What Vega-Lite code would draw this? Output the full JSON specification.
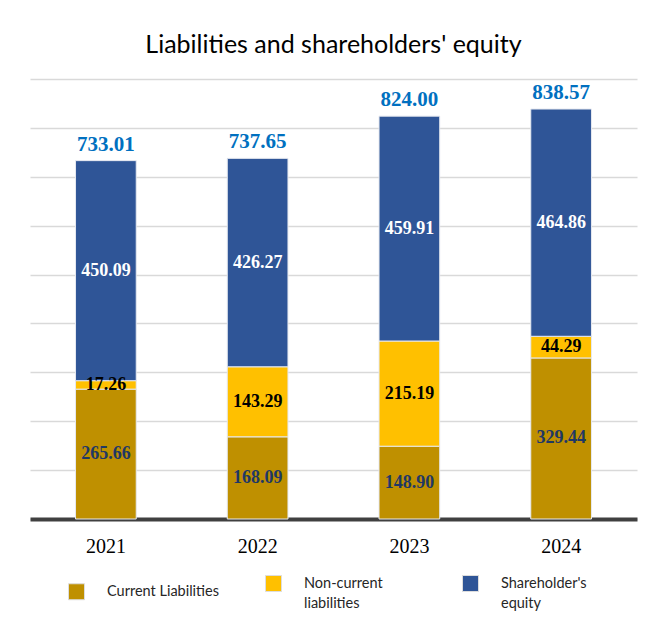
{
  "$schema": "https://vega.github.io/schema/vega-lite/v6.json",
  "width": 607,
  "height": 440,
  "autosize": {"type": "none"},
  "padding": {"left": 30, "top": 79, "right": 12, "bottom": 104},
  "background": "white",
  "title": {
    "text": "Liabilities and shareholders' equity",
    "font": "Lato",
    "fontSize": 25,
    "fontWeight": "normal",
    "color": "#000000",
    "anchor": "middle",
    "baseline": "alphabetic",
    "offset": 1
  },
  "config": {
    "view": {"stroke": null},
    "axis": {"labelFont": "Liberation Serif"},
    "style": {"guide-label": {"lineHeight": 20}}
  },
  "datasets": {
    "segments": [
      {"year": "2021", "category": "Current Liabilities", "ord": 1, "value": 265.66},
      {"year": "2021", "category": "Non-current liabilities", "ord": 2, "value": 17.26},
      {"year": "2021", "category": "Shareholder's equity", "ord": 3, "value": 450.09},
      {"year": "2022", "category": "Current Liabilities", "ord": 1, "value": 168.09},
      {"year": "2022", "category": "Non-current liabilities", "ord": 2, "value": 143.29},
      {"year": "2022", "category": "Shareholder's equity", "ord": 3, "value": 426.27},
      {"year": "2023", "category": "Current Liabilities", "ord": 1, "value": 148.90},
      {"year": "2023", "category": "Non-current liabilities", "ord": 2, "value": 215.19},
      {"year": "2023", "category": "Shareholder's equity", "ord": 3, "value": 459.91},
      {"year": "2024", "category": "Current Liabilities", "ord": 1, "value": 329.44},
      {"year": "2024", "category": "Non-current liabilities", "ord": 2, "value": 44.29},
      {"year": "2024", "category": "Shareholder's equity", "ord": 3, "value": 464.86}
    ],
    "totals": [
      {"year": "2021", "total": 733.01},
      {"year": "2022", "total": 737.65},
      {"year": "2023", "total": 824.00},
      {"year": "2024", "total": 838.57}
    ]
  },
  "encoding": {
    "x": {
      "field": "year",
      "type": "nominal",
      "scale": {"paddingInner": 0.6, "paddingOuter": 0.3},
      "axis": {
        "title": null,
        "labelAngle": 0,
        "labelFontSize": 20,
        "labelColor": "#000000",
        "labelPadding": 17,
        "ticks": false,
        "domainColor": "#404040",
        "domainWidth": 4,
        "grid": false
      }
    }
  },
  "layer": [
    {
      "data": {"name": "segments"},
      "mark": {"type": "bar", "stroke": "#e6e9f0", "strokeWidth": 1},
      "encoding": {
        "y": {
          "field": "value",
          "type": "quantitative",
          "stack": "zero",
          "scale": {"domain": [0, 900], "nice": false},
          "axis": {
            "title": null,
            "labels": false,
            "ticks": false,
            "domain": false,
            "values": [0, 100, 200, 300, 400, 500, 600, 700, 800, 900],
            "gridColor": "#d9d9d9",
            "gridWidth": 1.5
          }
        },
        "order": {"field": "ord", "type": "quantitative"},
        "color": {
          "field": "category",
          "type": "nominal",
          "scale": {
            "domain": ["Current Liabilities", "Non-current liabilities", "Shareholder's equity"],
            "range": ["#bf9000", "#ffc000", "#2f5597"]
          },
          "legend": {
            "title": null,
            "orient": "none",
            "legendX": 38,
            "legendY": 496,
            "direction": "horizontal",
            "columns": 3,
            "gridAlign": "all",
            "columnPadding": 44,
            "symbolType": "square",
            "symbolSize": 256,
            "symbolStrokeColor": "#dddddd",
            "symbolStrokeWidth": 1,
            "labelOffset": 22,
            "labelFont": "Lato",
            "labelFontSize": 14.5,
            "labelColor": "#262626",
            "labelExpr": "datum.label == 'Current Liabilities' ? 'Current Liabilities' : datum.label == 'Non-current liabilities' ? ['Non-current', 'liabilities'] : ['Shareholder\\'s', 'equity']",
            "labelLimit": 200
          }
        }
      }
    },
    {
      "data": {"name": "segments"},
      "transform": [
        {"stack": "value", "groupby": ["year"], "sort": [{"field": "ord"}], "as": ["v0", "v1"]},
        {"calculate": "(datum.v0 + datum.v1) / 2", "as": "mid"}
      ],
      "mark": {"type": "text", "font": "Liberation Serif", "fontSize": 18, "fontWeight": "bold", "baseline": "middle"},
      "encoding": {
        "y": {"field": "mid", "type": "quantitative"},
        "text": {"field": "value", "type": "quantitative", "format": ".2f"},
        "fill": {
          "field": "category",
          "type": "nominal",
          "scale": {
            "domain": ["Current Liabilities", "Non-current liabilities", "Shareholder's equity"],
            "range": ["#1f3864", "#000000", "#ffffff"]
          },
          "legend": null
        }
      }
    },
    {
      "data": {"name": "totals"},
      "mark": {"type": "text", "font": "Liberation Serif", "fontSize": 21, "fontWeight": "bold", "baseline": "alphabetic", "dy": -10, "color": "#0070c0"},
      "encoding": {
        "y": {"field": "total", "type": "quantitative"},
        "text": {"field": "total", "type": "quantitative", "format": ".2f"}
      }
    }
  ],
  "resolve": {"scale": {"color": "independent", "fill": "independent"}}
}
